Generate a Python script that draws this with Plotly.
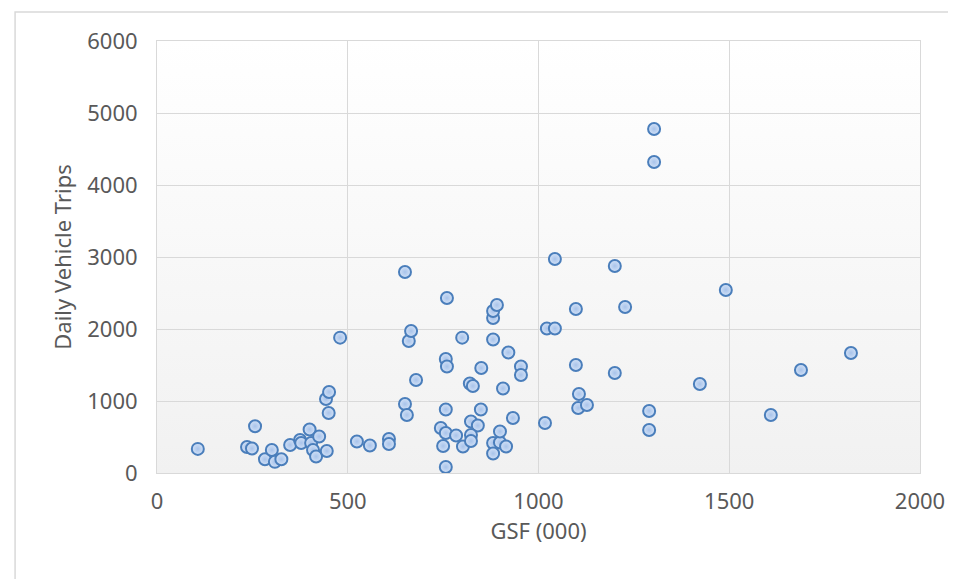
import base64
import plotly.graph_objects as go

# GSF (000) and daily vehicle trips
gsf = [107, 236, 249, 257, 283, 301, 309, 326, 349, 375, 378, 400, 404, 409, 417,
       425, 445, 443, 451, 450, 480, 524, 558, 608, 608, 650, 655, 650, 660, 666,
       679, 744, 757, 750, 757, 757, 757, 760, 760, 784, 800, 802, 820, 828, 823,
       841, 823, 823, 849, 850, 881, 881, 881, 891, 881, 899, 899, 915, 881, 907,
       921, 933, 954, 954, 1017, 1022, 1043, 1043, 1098, 1098, 1106, 1104, 1127,
       1200, 1200, 1227, 1290, 1290, 1303, 1303, 1423, 1491, 1609, 1688, 1819]
trips = [335, 361, 340, 650, 190, 319, 155, 190, 389, 458, 417, 605, 417, 319, 229,
         507, 306, 1028, 1125, 833, 1880, 437, 382, 472, 403, 958, 806, 2792, 1833, 1972,
         1292, 625, 556, 375, 83, 882, 1583, 1479, 2431, 521, 1880, 368, 1243, 1208, 715,
         660, 528, 444, 882, 1458, 1854, 2153, 2250, 2333, 417, 424, 576, 368, 271, 1174,
         1673, 764, 1479, 1361, 694, 2007, 2007, 2972, 2278, 1500, 1097, 903, 944,
         2875, 1389, 2306, 861, 597, 4778, 4319, 1236, 2542, 806, 1431, 1667]

x_ticks = [0, 500, 1000, 1500, 2000]
y_ticks = [0, 1000, 2000, 3000, 4000, 5000, 6000]

FONT = "Noto Sans"
TXT = "#595959"
GRID = "#d9d9d9"

fig = go.Figure()
fig.add_trace(go.Scatter(
    x=gsf, y=trips, mode="markers",
    marker=dict(size=12, color="#d3e2f7",
                gradient=dict(type="radial", color="#a8c3ea"),
                line=dict(color="#4a7ebb", width=2)),
    hoverinfo="x+y", showlegend=False,
))

svg = ('<svg xmlns="http://www.w3.org/2000/svg" width="10" height="100" preserveAspectRatio="none">'
       '<defs><linearGradient id="g" x1="0" y1="0" x2="0" y2="1">'
       '<stop offset="0" stop-color="#ffffff"/><stop offset="1" stop-color="#f1f1f1"/>'
       '</linearGradient></defs><rect width="10" height="100" fill="url(#g)"/></svg>')
src = "data:image/svg+xml;base64," + base64.b64encode(svg.encode()).decode()

fig.update_layout(
    width=956, height=579,
    margin=dict(l=149, r=44, t=33, b=114),
    paper_bgcolor="white", plot_bgcolor="white",
    font=dict(family=FONT, color=TXT),
    images=[dict(source=src, xref="paper", yref="paper", x=0, y=1, sizex=1, sizey=1,
                 sizing="stretch", layer="below", xanchor="left", yanchor="top")],
    shapes=[dict(type="rect", xref="paper", yref="paper",
                 x0=-0.186, y0=-0.4, x1=1.2, y1=1.067,
                 line=dict(color="#d9d9d9", width=1.5), fillcolor="rgba(0,0,0,0)",
                 layer="below")],
    xaxis=dict(range=[0, 2000], tickvals=x_ticks, ticktext=[str(v) for v in x_ticks],
               showgrid=True, gridcolor=GRID, gridwidth=1, zeroline=False,
               showline=True, linecolor=GRID, linewidth=1, mirror=True,
               tickfont=dict(size=22, color=TXT), ticklabelstandoff=9,
               title=dict(text="GSF (000)", font=dict(size=22, color=TXT), standoff=6)),
    yaxis=dict(range=[0, 6000], tickvals=y_ticks, ticktext=[str(v) for v in y_ticks],
               showgrid=True, gridcolor=GRID, gridwidth=1, zeroline=False,
               showline=True, linecolor=GRID, linewidth=1, mirror=True,
               tickfont=dict(size=22, color=TXT), ticklabelstandoff=14,
               title=dict(text="Daily Vehicle Trips", font=dict(size=22, color=TXT), standoff=9)),
)

fig.write_html("out.html")
